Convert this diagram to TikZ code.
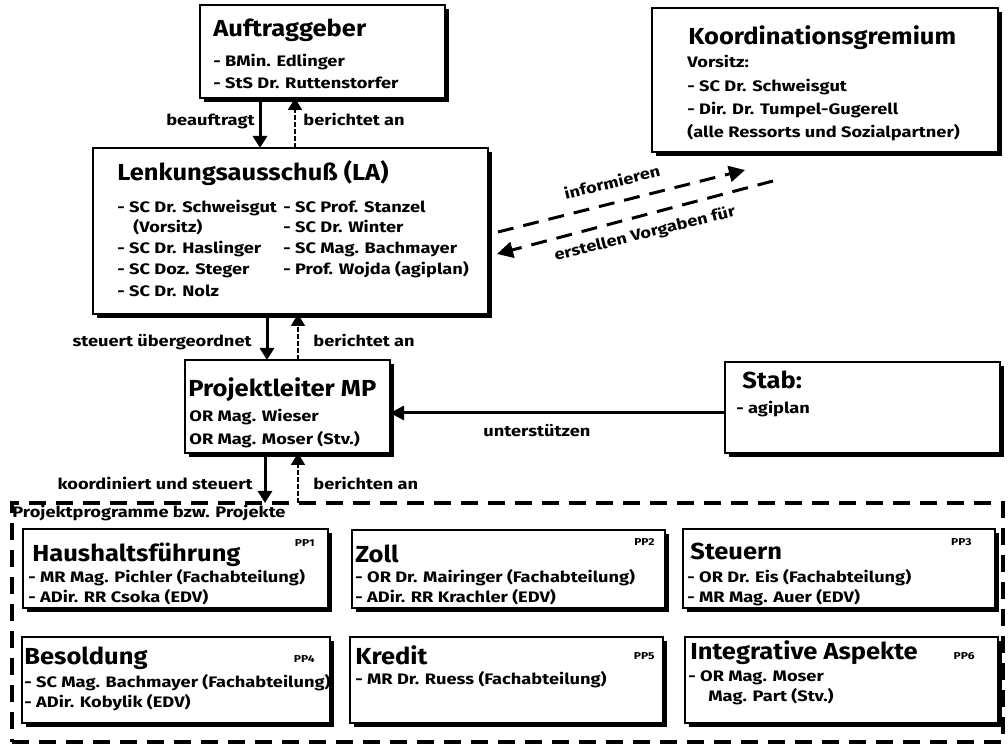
\documentclass[tikz,border=0pt]{standalone}
\usepackage{fontspec}
\setmainfont{Fira Sans}
\newfontfamily\itemfont{Fira Sans}[FakeStretch=1.2]
\newfontfamily\titlefont{Fira Sans}[FakeStretch=1.1]
\usetikzlibrary{arrows.meta,shadows,calc}
\begin{document}
\begin{tikzpicture}[x=0.5pt,y=-0.5pt,
  box/.style={draw=black,line width=1pt,fill=white,rectangle,inner sep=0pt,outer sep=0pt,anchor=north west,
    drop shadow={shadow xshift=2pt,shadow yshift=-2pt,opacity=1,fill=black}},
  ttl/.style={anchor=base west,inner sep=0pt,font=\titlefont\fontsize{11.6}{14}\selectfont\bfseries},
  itm/.style={anchor=base west,inner sep=0pt,font=\itemfont\fontsize{7.6}{9}\selectfont\bfseries},
  lbll/.style={anchor=base west,inner sep=0pt,font=\itemfont\fontsize{7.6}{9}\selectfont\bfseries},
  lblr/.style={anchor=base east,inner sep=0pt,font=\itemfont\fontsize{7.6}{9}\selectfont\bfseries},
  lbld/.style={inner sep=0pt,rotate=14,font=\itemfont\fontsize{7.6}{9}\selectfont\bfseries},
  pptag/.style={anchor=base east,inner sep=0pt,font=\itemfont\fontsize{5}{5}\selectfont\bfseries},
  downarr/.style={line width=1.5pt,-{Triangle[length=6pt,width=7pt]}},
  uparr/.style={line width=0.9pt,dash pattern=on 2.5pt off 1pt,-{Triangle[length=6pt,width=7pt]}},
  diagarr/.style={line width=1.5pt,dash pattern=on 8pt off 5pt,-{Triangle[length=8pt,width=8pt]}},
  solidarr/.style={line width=1.5pt,-{Triangle[length=7pt,width=7pt]}},
  framebox/.style={draw=black,line width=1.8pt,dash pattern=on 8.5pt off 5pt,rectangle,inner sep=0pt,outer sep=0pt,anchor=north west}
]
\useasboundingbox (0,0) rectangle (1008,747);

% boxes
\node[box,minimum width=122.5pt,minimum height=46.5pt] (auf) at (200,5) {};
\node[box,minimum width=173pt,minimum height=72pt] (koo) at (652,8) {};
\node[box,minimum width=197.5pt,minimum height=83pt] (la) at (93,148) {};
\node[box,minimum width=102.5pt,minimum height=46.5pt] (pm) at (185,360) {};
\node[box,minimum width=137.5pt,minimum height=45.5pt] (stab) at (725,362) {};
\node[framebox,minimum width=495.5pt,minimum height=119.5pt] (frame) at (12,503) {};
\node[box,minimum width=152.5pt,minimum height=39.5pt] (pp1) at (23,529) {};
\node[box,minimum width=156.5pt,minimum height=39pt] (pp2) at (352,530) {};
\node[box,minimum width=156pt,minimum height=39.5pt] (pp3) at (683,529) {};
\node[box,minimum width=154pt,minimum height=43pt] (pp4) at (22,637) {};
\node[box,minimum width=156.5pt,minimum height=43pt] (pp5) at (350,637) {};
\node[box,minimum width=156.5pt,minimum height=43pt] (pp6) at (685,637) {};

% texts
\node[ttl] (aufT) at (213,37) {Auftraggeber};
\node[itm] (aufA) at (213,67) {- BMin. Edlinger};
\node[itm] (aufB) at (213,89) {- StS Dr. Ruttenstorfer};

\node[ttl] (kooT) at (688,45) {Koordinationsgremium};
\node[itm] (kooA) at (687,68) {Vorsitz:};
\node[itm] (kooB) at (687,92) {- SC Dr. Schweisgut};
\node[itm] (kooC) at (687,115) {- Dir. Dr. Tumpel-Gugerell};
\node[itm] (kooD) at (687,138) {(alle Ressorts und Sozialpartner)};

\node[ttl] (laT) at (117,181) {Lenkungsausschuß (LA)};
\node[itm] (laA) at (117,213) {- SC Dr. Schweisgut};
\node[itm] (laB) at (133,233) {(Vorsitz)};
\node[itm] (laC) at (117,254) {- SC Dr. Haslinger};
\node[itm] (laD) at (117,275) {- SC Doz. Steger};
\node[itm] (laE) at (117,297) {- SC Dr. Nolz};
\node[itm] (laF) at (283,213) {- SC Prof. Stanzel};
\node[itm] (laG) at (283,233) {- SC Dr. Winter};
\node[itm] (laH) at (283,254) {- SC Mag. Bachmayer};
\node[itm] (laI) at (283,275) {- Prof. Wojda (agiplan)};

\node[ttl] (pmT) at (188,397) {Projektleiter MP};
\node[itm] (pmA) at (189,422) {OR Mag. Wieser};
\node[itm] (pmB) at (189,445) {OR Mag. Moser (Stv.)};

\node[ttl] (stabT) at (742,389) {Stab:};
\node[itm] (stabA) at (736,414) {- agiplan};

\node[itm] (frameT) at (12,518) {Projektprogramme bzw. Projekte};

\node[ttl] (pp1T) at (32,562) {Haushaltsführung};
\node[itm] (pp1A) at (28,583) {- MR Mag. Pichler (Fachabteilung)};
\node[itm] (pp1B) at (28,603) {- ADir. RR Csoka (EDV)};
\node[pptag] (pp1N) at (315,547) {PP1};

\node[ttl] (pp2T) at (355,563) {Zoll};
\node[itm] (pp2A) at (355,583) {- OR Dr. Mairinger (Fachabteilung)};
\node[itm] (pp2B) at (355,603) {- ADir. RR Krachler (EDV)};
\node[pptag] (pp2N) at (655,546) {PP2};

\node[ttl] (pp3T) at (690,560) {Steuern};
\node[itm] (pp3A) at (687,583) {- OR Dr. Eis (Fachabteilung)};
\node[itm] (pp3B) at (687,603) {- MR Mag. Auer (EDV)};
\node[pptag] (pp3N) at (972,546) {PP3};

\node[ttl] (pp4T) at (24,665) {Besoldung};
\node[itm] (pp4A) at (24,688) {- SC Mag. Bachmayer (Fachabteilung)};
\node[itm] (pp4B) at (24,708) {- ADir. Kobylik (EDV)};
\node[pptag] (pp4N) at (315,663) {PP4};

\node[ttl] (pp5T) at (355,665) {Kredit};
\node[itm] (pp5A) at (355,685) {- MR Dr. Ruess (Fachabteilung)};
\node[pptag] (pp5N) at (655,660) {PP5};

\node[ttl] (pp6T) at (690,660) {Integrative Aspekte};
\node[itm] (pp6A) at (688,682) {- OR Mag. Moser};
\node[itm] (pp6B) at (708,702) {Mag. Part (Stv.)};
\node[pptag] (pp6N) at (975,660) {PP6};

% column coordinates
\coordinate (d1) at (260,0);
\coordinate (u1) at (295,0);
\coordinate (d2) at (267,0);
\coordinate (u2) at (298,0);
\coordinate (d3) at (265,0);
\coordinate (u3) at (298,0);
\coordinate (ys) at (0,413);

% vertical arrows
\draw[downarr] (auf.south -| d1) -- (la.north -| d1);
\draw[uparr] (la.north -| u1) -- (auf.south -| u1);
\draw[downarr] (la.south -| d2) -- (pm.north -| d2);
\draw[uparr] (pm.north -| u2) -- (la.south -| u2);
\draw[downarr] (pm.south -| d3) -- (frame.north -| d3);
\draw[uparr] (frame.north -| u3) -- (pm.south -| u3);

\node[lblr] (l1) at (255,126) {beauftragt};
\node[lbll] (l2) at (303,126) {berichtet an};
\node[lblr] (l3) at (252,347) {steuert übergeordnet};
\node[lbll] (l4) at (313,347) {berichtet an};
\node[lblr] (l5) at (253,490) {koordiniert und steuert};
\node[lbll] (l6) at (313,490) {berichten an};

% stab arrow
\draw[solidarr] (stab.west |- ys) -- (pm.east |- ys);
\node[lbll] (l7) at (483,437) {unterstützen};

% diagonal dashed arrows
\coordinate (i1) at (498,232);
\coordinate (i2) at (745,170);
\coordinate (e1) at (773,181);
\coordinate (e2) at (497,254);
\draw[diagarr] (i1) -- (i2);
\draw[diagarr] (e1) -- (e2);
\node[lbld] (l8) at (612,182) {informieren};
\node[lbld] (l9) at (645,234) {erstellen Vorgaben für};
\end{tikzpicture}
\end{document}
